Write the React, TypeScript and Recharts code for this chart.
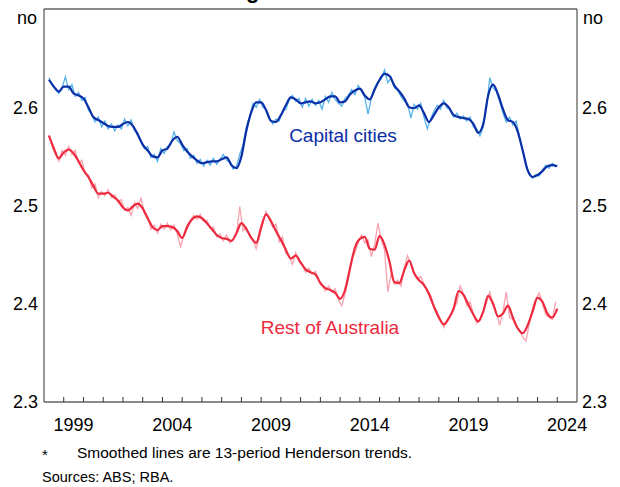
import React from 'react';
import { LineChart, Line, XAxis, YAxis, CartesianGrid, ReferenceLine } from 'recharts';

// trend series: quarterly, starting 1998.25
const TREND_START = 1998.25;
const capitalTrend = [
  2.628, 2.621, 2.616, 2.621, 2.621, 2.614, 2.612, 2.609, 2.600, 2.590, 2.587, 2.584,
  2.581, 2.580, 2.580, 2.583, 2.585, 2.581, 2.572, 2.562, 2.556, 2.550, 2.549, 2.556,
  2.558, 2.566, 2.570, 2.562, 2.555, 2.550, 2.546, 2.543, 2.544, 2.545, 2.545, 2.547,
  2.549, 2.541, 2.538, 2.550, 2.576, 2.595, 2.605, 2.605, 2.597, 2.586, 2.585, 2.592,
  2.602, 2.610, 2.608, 2.604, 2.605, 2.606, 2.604, 2.605, 2.608, 2.611, 2.611, 2.605,
  2.606, 2.613, 2.617, 2.619, 2.612, 2.608, 2.618, 2.628, 2.634, 2.632, 2.622, 2.616,
  2.609, 2.600, 2.599, 2.602, 2.594, 2.585, 2.592, 2.600, 2.604, 2.600, 2.592, 2.590,
  2.589, 2.588, 2.583, 2.574, 2.583, 2.612, 2.623, 2.613, 2.598, 2.587, 2.585, 2.575,
  2.556, 2.536, 2.529, 2.531, 2.535, 2.540, 2.541, 2.540,
];
const restTrend = [
  2.571, 2.558, 2.548, 2.554, 2.557, 2.553, 2.545, 2.536, 2.529, 2.520, 2.512, 2.512,
  2.513, 2.509, 2.505, 2.498, 2.495, 2.499, 2.502, 2.497, 2.487, 2.478, 2.475, 2.479,
  2.479, 2.478, 2.474, 2.467, 2.478, 2.486, 2.489, 2.487, 2.482, 2.476, 2.470, 2.467,
  2.466, 2.464, 2.472, 2.482, 2.476, 2.467, 2.462, 2.478, 2.491, 2.484, 2.474, 2.465,
  2.455, 2.446, 2.449, 2.442, 2.435, 2.432, 2.430, 2.421, 2.416, 2.414, 2.411, 2.405,
  2.414, 2.436, 2.457, 2.466, 2.468, 2.456, 2.455, 2.469, 2.460, 2.443, 2.422, 2.421,
  2.434, 2.444, 2.431, 2.424, 2.419, 2.410, 2.397, 2.386, 2.379, 2.385, 2.395, 2.413,
  2.409, 2.399, 2.389, 2.382, 2.392, 2.408, 2.400, 2.387, 2.390, 2.398, 2.386, 2.375,
  2.370, 2.378, 2.392, 2.406, 2.402, 2.390, 2.386, 2.395,
];

// raw series: every two months, starting 1998.25
const RAW_START = 1998.25;
const capitalRaw = [
  2.630, 2.622, 2.618, 2.614, 2.620, 2.631, 2.618, 2.623, 2.611, 2.615, 2.607, 2.610,
  2.597, 2.593, 2.585, 2.590, 2.580, 2.586, 2.578, 2.583, 2.576, 2.582, 2.578, 2.588,
  2.581, 2.587, 2.576, 2.574, 2.566, 2.558, 2.560, 2.549, 2.552, 2.545, 2.558, 2.553,
  2.560, 2.562, 2.575, 2.566, 2.563, 2.556, 2.558, 2.548, 2.551, 2.543, 2.547, 2.540,
  2.546, 2.541, 2.548, 2.542, 2.547, 2.552, 2.546, 2.544, 2.537, 2.540, 2.552, 2.562,
  2.580, 2.590, 2.604, 2.600, 2.608, 2.600, 2.598, 2.590, 2.583, 2.588, 2.586, 2.596,
  2.598, 2.607, 2.612, 2.606, 2.609, 2.600, 2.609, 2.601, 2.608, 2.602, 2.607, 2.598,
  2.611, 2.605, 2.615, 2.608, 2.604, 2.601, 2.609, 2.612, 2.618, 2.613, 2.622, 2.616,
  2.610, 2.593, 2.610, 2.620, 2.626, 2.629, 2.638, 2.625, 2.630, 2.620, 2.617, 2.611,
  2.606, 2.604, 2.589, 2.603, 2.598, 2.604, 2.590, 2.578, 2.588, 2.596, 2.602, 2.598,
  2.607, 2.599, 2.598, 2.590, 2.594, 2.588, 2.591, 2.586, 2.590, 2.580, 2.578, 2.571,
  2.580, 2.600, 2.630, 2.620, 2.616, 2.606, 2.594, 2.585, 2.590, 2.582, 2.586, 2.570,
  2.556, 2.540, 2.533, 2.528, 2.531, 2.530, 2.536, 2.541, 2.538, 2.543, 2.539,
];
const restRaw = [
  2.572, 2.560, 2.552, 2.545, 2.556, 2.551, 2.560, 2.552, 2.556, 2.543, 2.546, 2.532,
  2.531, 2.518, 2.522, 2.508, 2.514, 2.510, 2.516, 2.508, 2.511, 2.503, 2.506, 2.495,
  2.498, 2.490, 2.503, 2.497, 2.508, 2.492, 2.489, 2.476, 2.480, 2.472, 2.481, 2.476,
  2.482, 2.475, 2.480, 2.471, 2.458, 2.470, 2.480, 2.484, 2.490, 2.486, 2.491, 2.484,
  2.485, 2.477, 2.478, 2.468, 2.471, 2.464, 2.470, 2.462, 2.466, 2.470, 2.499, 2.474,
  2.478, 2.470, 2.465, 2.456, 2.468, 2.482, 2.494, 2.486, 2.478, 2.481, 2.463, 2.468,
  2.451, 2.449, 2.440, 2.452, 2.443, 2.440, 2.432, 2.436, 2.430, 2.433, 2.424, 2.420,
  2.413, 2.418, 2.412, 2.415, 2.404, 2.398, 2.410, 2.425, 2.445, 2.452, 2.462, 2.470,
  2.462, 2.465, 2.448, 2.460, 2.482, 2.465, 2.455, 2.412, 2.430, 2.420, 2.424, 2.418,
  2.437, 2.449, 2.440, 2.432, 2.425, 2.428, 2.420, 2.414, 2.409, 2.398, 2.392, 2.384,
  2.376, 2.383, 2.388, 2.395, 2.401, 2.418, 2.410, 2.398, 2.402, 2.390, 2.380, 2.385,
  2.392, 2.401, 2.412, 2.398, 2.391, 2.378, 2.392, 2.412, 2.386, 2.384, 2.377, 2.373,
  2.366, 2.362, 2.380, 2.396, 2.405, 2.411, 2.400, 2.389, 2.386, 2.384, 2.402,
];

const X_MIN = 1998;
const X_MAX = 2025;
const yearTicks = Array.from({ length: X_MAX - X_MIN + 1 }, (_, i) => X_MIN + i);
const labelYears = [1999, 2004, 2009, 2014, 2019, 2024];
const yTicks = [2.3, 2.4, 2.5, 2.6, 2.7];

const toSeries = (vals: number[], start: number, step: number) =>
  vals.map((v, i) => ({ t: start + i * step, v }));

const capRawData = toSeries(capitalRaw, RAW_START, 1 / 6);
const restRawData = toSeries(restRaw, RAW_START, 1 / 6);
const capTrendData = toSeries(capitalTrend, TREND_START, 0.25);
const restTrendData = toSeries(restTrend, TREND_START, 0.25);

const W = 620;
const H = 487;
const LEFT_W = 44;
const RIGHT_W = 43;
const FONT = '"Liberation Sans", Arial, sans-serif';
const HALF_YEAR = (W - LEFT_W - RIGHT_W) / (X_MAX - X_MIN) / 2;

const YearTick = (props: any) => {
  const { x, y, payload } = props;
  const yr = payload.value;
  return (
    <g>
      {yr > X_MIN && yr < X_MAX && (
        <line x1={x} x2={x} y1={y} y2={y - 5} stroke="#333" strokeWidth={1} />
      )}
      {labelYears.includes(yr) && (
        <text x={x + HALF_YEAR} y={y + 29} textAnchor="middle" fontSize={18} fill="#000" fontFamily={FONT}>
          {yr}
        </text>
      )}
    </g>
  );
};

const abs = (extra: React.CSSProperties): React.CSSProperties => ({
  position: 'absolute',
  fontFamily: FONT,
  whiteSpace: 'nowrap',
  lineHeight: 1,
  ...extra,
});

export default function App() {
  const yTickStyle = { fontSize: 18, fill: '#000', fontFamily: FONT };
  return (
    <div style={{ position: 'absolute', left: 0, top: 0, width: W, height: H, overflow: 'hidden', background: '#fff' }}>
      {/* title sits above the frame and is cropped, as in the source image */}
      <div style={abs({ left: 318, top: -20, transform: 'translateX(-50%)', fontSize: 22, fontWeight: 'bold' })}>
        Average Household Size*
      </div>
      <LineChart width={W} height={H} margin={{ top: 9, right: 0, bottom: 55, left: 0 }}>
        <CartesianGrid vertical={false} stroke="#c8c8c8" strokeWidth={1} />
        <XAxis
          dataKey="t"
          type="number"
          domain={[X_MIN, X_MAX]}
          ticks={yearTicks}
          interval={0}
          allowDataOverflow
          tickLine={false}
          tickSize={0}
          tickMargin={0}
          height={30}
          stroke="#333"
          tick={<YearTick />}
        />
        <YAxis
          yAxisId="left"
          orientation="left"
          domain={[2.3, 2.7]}
          ticks={yTicks}
          width={LEFT_W}
          tickLine={false}
          tickSize={0}
          tickMargin={6}
          stroke="#333"
          tick={yTickStyle}
          tickFormatter={(v: number) => (v > 2.65 ? '' : v.toFixed(1))}
          allowDataOverflow
        />
        <YAxis
          yAxisId="right"
          orientation="right"
          domain={[2.3, 2.7]}
          ticks={yTicks}
          width={RIGHT_W}
          tickLine={false}
          tickSize={0}
          tickMargin={5}
          stroke="#333"
          tick={yTickStyle}
          tickFormatter={(v: number) => (v > 2.65 ? '' : v.toFixed(1))}
          allowDataOverflow
        />
        <ReferenceLine yAxisId="left" y={2.7} stroke="#333" strokeWidth={1} />
        <Line yAxisId="left" data={capRawData} dataKey="v" type="linear" stroke="#55b2e8" strokeWidth={1.3} dot={false} isAnimationActive={false} />
        <Line yAxisId="left" data={restRawData} dataKey="v" type="linear" stroke="#f7a3b0" strokeWidth={1.3} dot={false} isAnimationActive={false} />
        <Line yAxisId="left" data={capTrendData} dataKey="v" type="monotone" stroke="#0a2ea6" strokeWidth={2.2} dot={false} isAnimationActive={false} />
        <Line yAxisId="left" data={restTrendData} dataKey="v" type="monotone" stroke="#ee2a3e" strokeWidth={2.2} dot={false} isAnimationActive={false} />
      </LineChart>
      <div style={abs({ right: W - 37, top: 9, fontSize: 18 })}>no</div>
      <div style={abs({ left: 583, top: 9, fontSize: 18 })}>no</div>
      <div style={abs({ left: 343, top: 135, transform: 'translate(-50%, -50%)', fontSize: 19, color: '#0a2ea6' })}>
        Capital cities
      </div>
      <div style={abs({ left: 330, top: 327, transform: 'translate(-50%, -50%)', fontSize: 19, color: '#ee2a3e' })}>
        Rest of Australia
      </div>
      <div style={abs({ left: 42, top: 447, fontSize: 15 })}>*</div>
      <div style={abs({ left: 77, top: 445, fontSize: 15.5 })}>Smoothed lines are 13-period Henderson trends.</div>
      <div style={abs({ left: 42, top: 470, fontSize: 14.5 })}>Sources: ABS; RBA.</div>
    </div>
  );
}
